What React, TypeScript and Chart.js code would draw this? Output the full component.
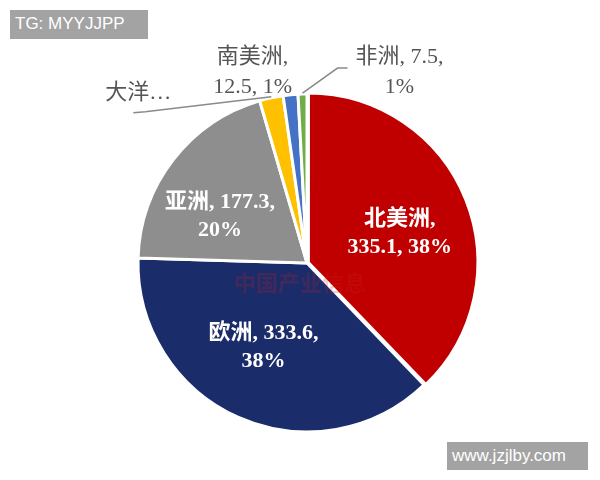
import React, { useEffect, useRef } from "react";
import { Chart, registerables } from "chart.js";

Chart.register(...registerables);

const categories = ["北美洲", "欧洲", "亚洲", "大洋洲", "南美洲", "非洲"];
const values = [335.1, 333.6, 177.3, 20.0, 12.5, 7.5];
const percents = ["38%", "38%", "20%", "2%", "1%", "1%"];
const colors = ["#C00000", "#1B2C6B", "#8E8E8E", "#FFC000", "#4472C4", "#70AD47"];
const sliceOffsets = [6, 0, 0, 0, 0, 0];

// label lines built from the data
const labelLines: string[][] = [
  [`${categories[0]},`, `${values[0]}, ${percents[0]}`],
  [`${categories[1]}, ${values[1]},`, `${percents[1]}`],
  [`${categories[2]}, ${values[2]},`, `${percents[2]}`],
  [`${categories[3].slice(0, 2)}…`],
  [`${categories[4]},`, `${values[4]}, ${percents[4]}`],
  [`${categories[5]}, ${values[5]},`, `${percents[5]}`],
];

const SERIF = '"Liberation Serif", "Noto Sans CJK SC", serif';

const labelPlugin = {
  id: "pieLabels",
  afterDatasetsDraw(chart: any) {
    const ctx = chart.ctx as CanvasRenderingContext2D;
    const meta = chart.getDatasetMeta(0);
    ctx.save();
    // faint watermark
    ctx.font = `bold 22px "Noto Sans CJK SC", sans-serif`;
    ctx.fillStyle = "rgba(200,30,30,0.22)";
    ctx.textAlign = "center";
    ctx.textBaseline = "middle";
    const c0 = meta.data[0];
    ctx.fillText("中国产业信息", c0.x - 7, c0.y + 20);

    meta.data.forEach((arc: any, i: number) => {
      const { x, y, startAngle, endAngle, outerRadius } = arc.getProps(
        ["x", "y", "startAngle", "endAngle", "outerRadius"],
        true
      );
      const mid = (startAngle + endAngle) / 2;
      const cos = Math.cos(mid);
      const sin = Math.sin(mid);
      const lines = labelLines[i];
      const lh = i < 3 ? 28 : 30;
      const drawBlock = (cx: number, cy: number) => {
        const top = cy - ((lines.length - 1) * lh) / 2;
        lines.forEach((t, k) => ctx.fillText(t, cx, top + k * lh));
      };
      ctx.textAlign = "center";
      ctx.textBaseline = "middle";
      if (i < 3) {
        ctx.font = `bold 22px ${SERIF}`;
        ctx.fillStyle = "#ffffff";
        const r = [100, 95, 105][i];
        const d = [
          [0, 8],
          [-5, -3],
          [-4, 18],
        ][i];
        drawBlock(x + r * cos + d[0], y + r * sin + d[1]);
      } else {
        ctx.font = `22px ${SERIF}`;
        ctx.fillStyle = "#555555";
        const ex = x + outerRadius * cos;
        const ey = y + outerRadius * sin;
        ctx.strokeStyle = "#8a8a8a";
        ctx.lineWidth = 1.5;
        if (i === 3) {
          ctx.beginPath();
          ctx.moveTo(ex, ey - 1);
          ctx.lineTo(ex - 126, ey + 14);
          ctx.lineTo(ex - 138, ey + 15);
          ctx.stroke();
          drawBlock(ex - 133, ey - 5);
        } else if (i === 4) {
          drawBlock(ex - 38, ey - 23);
        } else {
          ctx.beginPath();
          ctx.moveTo(ex, ey - 1);
          ctx.lineTo(ex + 35, ey - 26);
          ctx.lineTo(ex + 45, ey - 26);
          ctx.stroke();
          drawBlock(ex + 97, ey - 22);
        }
      }
    });
    ctx.restore();
  },
};

export default function App() {
  const ref = useRef<HTMLCanvasElement | null>(null);
  useEffect(() => {
    if (!ref.current) return;
    const chart = new Chart(ref.current, {
      type: "pie",
      data: {
        labels: categories,
        datasets: [
          {
            data: values,
            backgroundColor: colors,
            borderColor: "#ffffff",
            borderWidth: 3,
            offset: sliceOffsets,
          },
        ],
      },
      options: {
        responsive: false,
        animation: false,
        radius: 169,
        layout: { padding: { left: 120, right: 106, top: 83, bottom: 37 } },
        plugins: {
          legend: { display: false },
          tooltip: { enabled: false },
        },
      } as any,
      plugins: [labelPlugin],
    });
    return () => chart.destroy();
  }, []);

  const boxStyle: React.CSSProperties = {
    position: "absolute",
    background: "#a3a3a3",
    color: "#ffffff",
    fontFamily: '"Liberation Sans", Arial, sans-serif',
    fontSize: 17,
    lineHeight: "28px",
    paddingLeft: 5,
    boxSizing: "border-box",
  };

  return (
    <div style={{ position: "absolute", left: 0, top: 0, width: 600, height: 480, background: "#fff" }}>
      <canvas ref={ref} width={600} height={480} style={{ position: "absolute", left: 0, top: 0 }} />
      <div style={{ ...boxStyle, left: 10, top: 10, width: 138, height: 29 }}>TG: MYYJJPP</div>
      <div style={{ ...boxStyle, left: 447, top: 442, width: 141, height: 28 }}>www.jzjlby.com</div>
    </div>
  );
}
